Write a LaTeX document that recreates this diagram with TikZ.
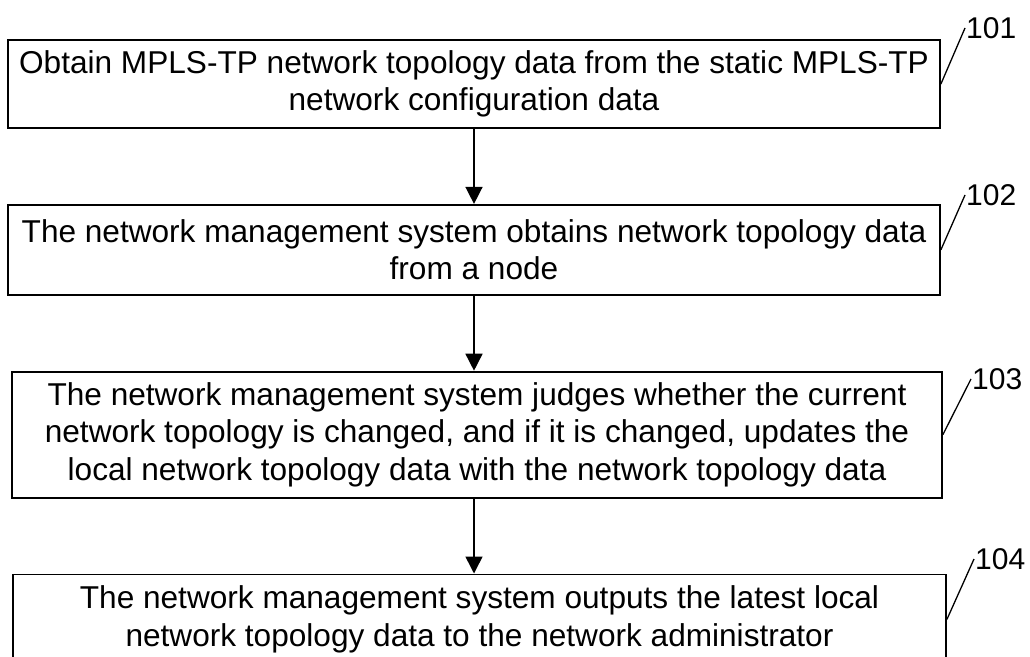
\documentclass[tikz,border=0pt]{standalone}
\usepackage{fontspec}
\setmainfont{Liberation Sans}
\usetikzlibrary{positioning,arrows.meta}

\begin{document}
\begin{tikzpicture}[%
    x=1pt,
    y=-1pt,
    >={Triangle[width=17pt,length=17pt]},
    node distance=75pt,
    procbox/.style={%
      rectangle,
      draw,
      line width=1.8pt,
      minimum width=932pt,
      align=center,
      font=\fontsize{31.6}{37.5}\selectfont},
    reflabel/.style={%
      anchor=west,
      inner sep=1pt,
      font=\fontsize{30}{30}\selectfont},
    leader/.style={line width=1.3pt},
    flow/.style={->, line width=1.5pt}
    ]
    \useasboundingbox (0,0) rectangle (1030,656);
    \node[procbox, minimum height=88pt] (101) at (474,84)
      {Obtain MPLS-TP network topology data from the static MPLS-TP\\
       network configuration data};
    \node[procbox, minimum height=90pt] (102) [below=of 101]
      {The network management system obtains network topology data\\
       from a node};
    \node[procbox, minimum height=126pt, minimum width=930pt] (103) [below=of 102, xshift=3pt]
      {The network management system judges whether the current\\
       network topology is changed, and if it is changed, updates the\\
       local network topology data with the network topology data};
    \node[procbox, minimum height=90pt, minimum width=933pt] (104) [below=of 103, xshift=2.5pt]
      {The network management system outputs the latest local\\
       network topology data to the network administrator};
    \draw[flow] (101.south) -- (102.north);
    \draw[flow] (102.south) -- (102.south |- 103.north);
    \draw[flow] (102.south |- 103.south) -- (102.south |- 104.north);
    \node[reflabel] (l101) at (965,28) {101};
    \node[reflabel] (l102) at (965,195) {102};
    \node[reflabel] (l103) at (971,379) {103};
    \node[reflabel] (l104) at (974,559) {104};
    \draw[leader] (101.east) -- (l101.west);
    \draw[leader] (102.east) -- (l102.west);
    \draw[leader] (103.east) -- (l103.west);
    \draw[leader] (104.east) -- (l104.west);
\end{tikzpicture}
\end{document}
